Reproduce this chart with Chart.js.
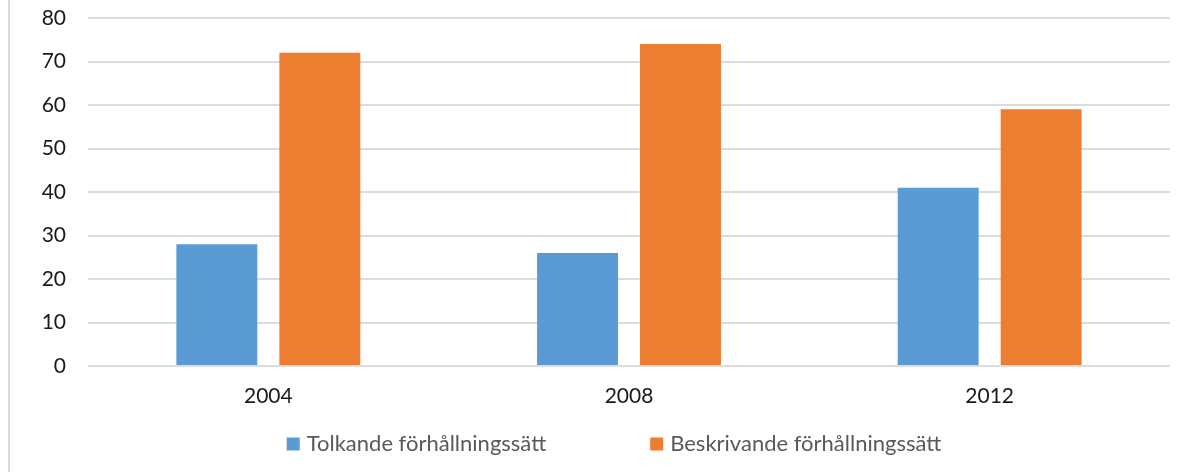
<!DOCTYPE html>
<html>
<head>
<meta charset="utf-8">
<script src="https://cdn.jsdelivr.net/npm/chart.js@4/dist/chart.umd.min.js"></script>
<style>
  html, body { margin: 0; padding: 0; background: #fff; }
  #wrap { position: relative; width: 1194px; height: 472px; }
  #wrap::before { content: ''; position: absolute; left: 8px; top: 0; width: 2px; height: 472px; background: #d9d9d9; }
</style>
</head>
<body>
<div id="wrap"><canvas id="chart" width="1194" height="472"></canvas></div>
<script>
// Data
const years = ['2004', '2008', '2012'];
const tolkande = [28, 26, 41];
const beskrivande = [72, 74, 59];
const seriesNames = ['Tolkande förhållningssätt', 'Beskrivande förhållningssätt'];
const yTicks = [0, 10, 20, 30, 40, 50, 60, 70, 80];

const FONT = 'Lato, "Open Sans", sans-serif';

// Legend drawn under the plot (Chart.js legend padding would also stretch it vertically)
const bottomLegend = {
    id: 'bottomLegend',
    afterDraw(chart) {
        const ctx = chart.ctx;
        const box = 13, boxGap = 7, itemGap = 104;
        ctx.save();
        ctx.font = '22px ' + FONT;
        ctx.textBaseline = 'middle';
        const items = chart.data.datasets.map(ds => ({ label: ds.label, color: ds.backgroundColor }));
        const widths = items.map(it => box + boxGap + ctx.measureText(it.label).width);
        const total = widths.reduce((a, b) => a + b, 0) + itemGap * (items.length - 1);
        let x = 614 - total / 2;
        const y = 444;
        items.forEach((it, i) => {
            ctx.fillStyle = it.color;
            ctx.fillRect(x, y - box / 2, box, box);
            ctx.fillStyle = '#595959';
            ctx.fillText(it.label, x + box + boxGap, y);
            x += widths[i] + itemGap;
        });
        ctx.restore();
    }
};

new Chart(document.getElementById('chart'), {
    type: 'bar',
    data: {
        labels: years,
        datasets: [{
            label: seriesNames[0],
            data: tolkande,
            backgroundColor: '#5B9BD5',
            categoryPercentage: 0.571,
            barPercentage: 0.786
        }, {
            label: seriesNames[1],
            data: beskrivande,
            backgroundColor: '#ED7D31',
            categoryPercentage: 0.571,
            barPercentage: 0.786
        }]
    },
    options: {
        responsive: false,
        animation: false,
        layout: { padding: { top: 18, right: 24, bottom: 56, left: 0 } },
        plugins: {
            legend: { display: false },
            tooltip: { enabled: false }
        },
        scales: {
            x: {
                grid: { display: false },
                border: { display: false },
                ticks: { color: '#1a1a1a', font: { family: FONT, size: 21 }, padding: 10 },
                afterFit(scale) { scale.height = 50; }
            },
            y: {
                min: 0,
                max: 80,
                afterBuildTicks(scale) { scale.ticks = yTicks.map(v => ({ value: v })); },
                grid: { color: '#dcdcdc', lineWidth: 2, drawTicks: false },
                border: { display: false },
                ticks: { color: '#1a1a1a', font: { family: FONT, size: 21 }, padding: 22 },
                afterFit(scale) {
                    scale.width = 88;
                    scale.paddingTop = 0;
                    scale.paddingBottom = 0;
                }
            }
        }
    },
    plugins: [bottomLegend]
});
</script>
</body>
</html>
